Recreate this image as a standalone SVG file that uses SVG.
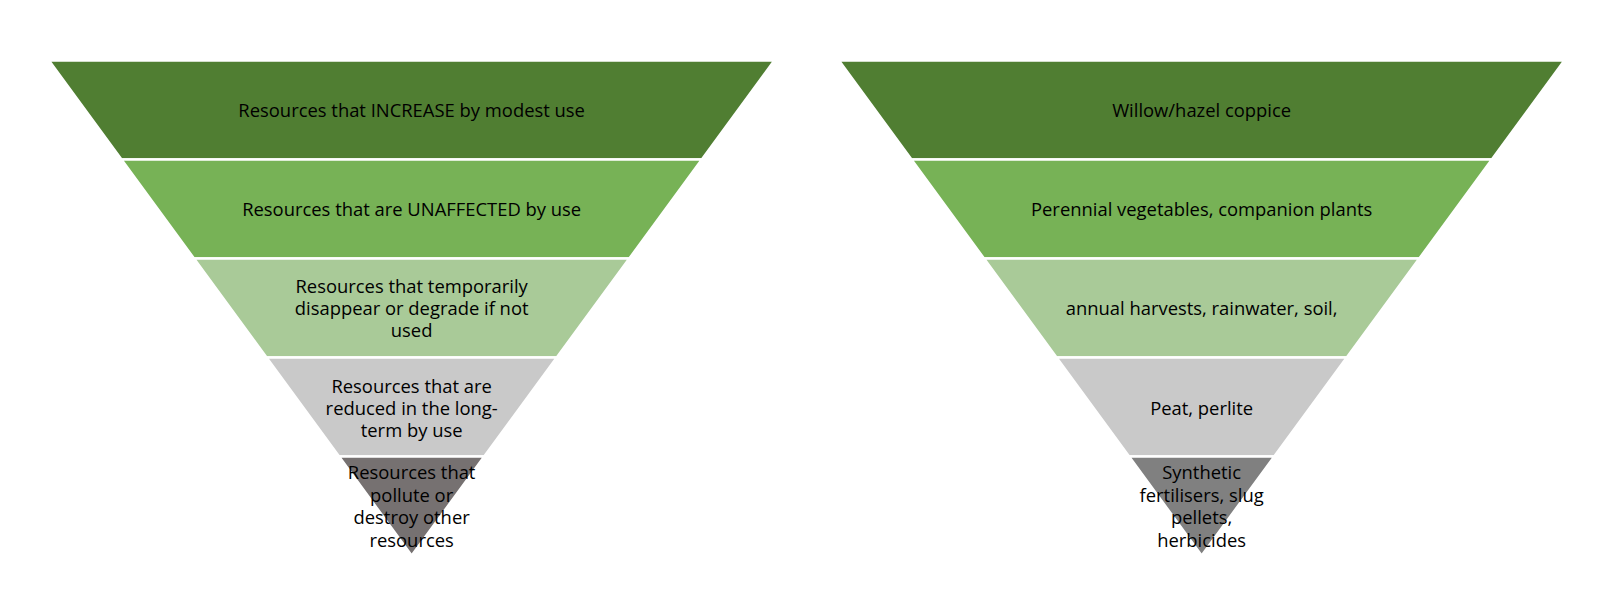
<svg xmlns="http://www.w3.org/2000/svg" width="1600" height="609" viewBox="0 0 1600 609">
<style>
.b{stroke:#fff;stroke-width:2.4}
.t{font-family:"Open Sans","Noto Sans",sans-serif;font-size:18.4px;fill:#000;text-anchor:middle}
.c1{fill:#507e32}.c2{fill:#77b256}.c3{fill:#a9ca98}.c4{fill:#c9c9c9}.c5{fill:#767171}.c6{fill:#808080}
</style>
<rect width="1600" height="609" fill="#fff"/>
<g id="left-pyramid">
<g id="l1"><polygon class="b c1" points="49,60.5 774.3,60.5 701.77,159.5 121.53,159.5"/><text class="t" x="411.65" y="116.7">Resources that INCREASE by modest use</text></g>
<g id="l2"><polygon class="b c2" points="121.53,159.5 701.77,159.5 629.24,258.5 194.06,258.5"/><text class="t" x="411.65" y="215.7">Resources that are UNAFFECTED by use</text></g>
<g id="l3"><polygon class="b c3" points="194.06,258.5 629.24,258.5 556.71,357.5 266.59,357.5"/><text class="t" x="411.65" y="293.3">Resources that temporarily</text><text class="t" x="411.65" y="315">disappear or degrade if not</text><text class="t" x="411.65" y="336.7">used</text></g>
<g id="l4"><polygon class="b c4" points="266.59,357.5 556.71,357.5 484.18,456.5 339.12,456.5"/><text class="t" x="411.65" y="392.5">Resources that are</text><text class="t" x="411.65" y="414.5">reduced in the long-</text><text class="t" x="411.65" y="436.5">term by use</text></g>
<g id="l5"><polygon class="b c5" points="339.12,456.5 484.18,456.5 411.65,555.5"/><text class="t" x="411.65" y="479.3">Resources that</text><text class="t" x="411.65" y="501.8">pollute or</text><text class="t" x="411.65" y="524.3">destroy other</text><text class="t" x="411.65" y="546.8">resources</text></g>
</g>
<g id="right-pyramid">
<g id="r1"><polygon class="b c1" points="839,60.5 1564.3,60.5 1491.77,159.5 911.53,159.5"/><text class="t" x="1201.65" y="116.7">Willow/hazel coppice</text></g>
<g id="r2"><polygon class="b c2" points="911.53,159.5 1491.77,159.5 1419.24,258.5 984.06,258.5"/><text class="t" x="1201.65" y="215.7">Perennial vegetables, companion plants</text></g>
<g id="r3"><polygon class="b c3" points="984.06,258.5 1419.24,258.5 1346.71,357.5 1056.59,357.5"/><text class="t" x="1201.65" y="315">annual harvests, rainwater, soil,</text></g>
<g id="r4"><polygon class="b c4" points="1056.59,357.5 1346.71,357.5 1274.18,456.5 1129.12,456.5"/><text class="t" x="1201.65" y="414.5">Peat, perlite</text></g>
<g id="r5"><polygon class="b c6" points="1129.12,456.5 1274.18,456.5 1201.65,555.5"/><text class="t" x="1201.65" y="479.3">Synthetic</text><text class="t" x="1201.65" y="501.8">fertilisers, slug</text><text class="t" x="1201.65" y="524.3">pellets,</text><text class="t" x="1201.65" y="546.8">herbicides</text></g>
</g>
<g id="connectors"/>
</svg>
